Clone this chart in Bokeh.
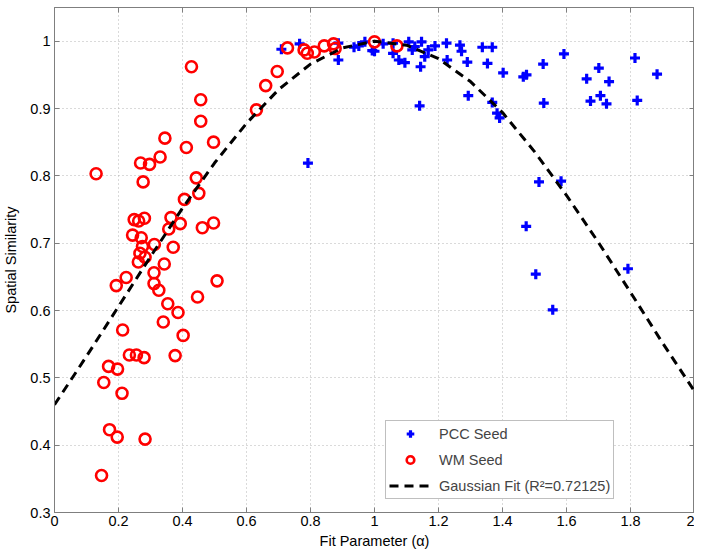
from bokeh.plotting import figure
from bokeh.models import Range1d, LinearAxis, Legend, LegendItem, FixedTicker
from bokeh.embed import file_html
from bokeh.resources import INLINE

# PCC Seed (blue crosses)
pcc_x = [0.709, 0.766, 0.887, 0.887, 0.936, 0.951, 0.970, 0.993, 0.792, 1.000,
         1.027, 1.058, 1.058, 1.076, 1.095, 1.107, 1.118, 1.126, 1.147, 1.144,
         1.157, 1.168, 1.189, 1.141, 1.225, 1.227, 1.267, 1.272, 1.290, 1.337,
         1.368, 1.353, 1.293, 1.368, 1.383, 1.391, 1.402, 1.465, 1.475, 1.527,
         1.529, 1.592, 1.663, 1.675, 1.701, 1.706, 1.725, 1.733, 1.814, 1.821,
         1.883, 1.514, 1.583, 1.474, 1.504, 1.557, 1.792]
pcc_y = [0.988, 0.996, 0.997, 0.972, 0.991, 0.993, 0.999, 0.986, 0.819, 0.985,
         0.996, 0.997, 0.982, 0.972, 0.968, 0.999, 0.987, 0.992, 0.999, 0.962,
         0.977, 0.987, 0.993, 0.904, 0.997, 0.972, 0.994, 0.985, 0.969, 0.991,
         0.991, 0.967, 0.919, 0.909, 0.893, 0.886, 0.953, 0.947, 0.950, 0.966,
         0.908, 0.981, 0.944, 0.911, 0.960, 0.919, 0.907, 0.940, 0.975, 0.912,
         0.951, 0.791, 0.792, 0.725, 0.654, 0.601, 0.662]

# WM Seed (red circles)
wm_x = [0.130, 0.428, 0.457, 0.457, 0.345, 0.412, 0.497, 0.330, 0.269, 0.297,
        0.277, 0.443, 0.451, 0.406, 0.249, 0.263, 0.281, 0.364, 0.244, 0.271,
        0.357, 0.393, 0.462, 0.497, 0.312, 0.275, 0.371, 0.267, 0.283, 0.262,
        0.343, 0.311, 0.224, 0.508, 0.696, 0.660, 0.631, 0.728, 0.780, 0.790,
        0.812, 0.843, 0.872, 0.877, 1.000, 1.070, 0.193, 0.311, 0.326, 0.447,
        0.354, 0.386, 0.340, 0.402, 0.213, 0.234, 0.256, 0.280, 0.377, 0.169,
        0.197, 0.154, 0.211, 0.172, 0.196, 0.283, 0.147]
wm_y = [0.803, 0.962, 0.913, 0.881, 0.856, 0.842, 0.850, 0.828, 0.819, 0.817,
        0.791, 0.797, 0.774, 0.765, 0.735, 0.733, 0.737, 0.738, 0.712, 0.708,
        0.721, 0.729, 0.723, 0.730, 0.698, 0.695, 0.694, 0.685, 0.679, 0.672,
        0.669, 0.656, 0.649, 0.644, 0.955, 0.934, 0.898, 0.990, 0.987, 0.982,
        0.984, 0.993, 0.996, 0.989, 0.999, 0.993, 0.637, 0.640, 0.630, 0.620,
        0.610, 0.597, 0.583, 0.563, 0.571, 0.534, 0.534, 0.530, 0.533, 0.517,
        0.513, 0.493, 0.477, 0.423, 0.412, 0.409, 0.355]

# Gaussian fit curve
fit_x = [0.0, 0.1, 0.2, 0.3, 0.4, 0.5, 0.6, 0.7, 0.8, 0.9, 1.0,
         1.1, 1.2, 1.3, 1.4, 1.5, 1.6, 1.7, 1.8, 1.9, 2.0]
fit_y = [0.460, 0.532, 0.606, 0.680, 0.752, 0.819, 0.878, 0.928, 0.966, 0.990, 1.000,
         0.994, 0.974, 0.940, 0.894, 0.836, 0.771, 0.701, 0.627, 0.552, 0.480]

x_ticks = [0, 0.2, 0.4, 0.6, 0.8, 1, 1.2, 1.4, 1.6, 1.8, 2]
y_ticks = [0.3, 0.4, 0.5, 0.6, 0.7, 0.8, 0.9, 1]

FONT = "Liberation Sans"
FS = "14.5px"
AX = "#7f7f7f"

p = figure(frame_width=640, frame_height=505, output_backend="svg", toolbar_location=None,
           x_range=Range1d(0, 2), y_range=Range1d(0.3, 1.05),
           min_border_left=44, min_border_right=0, min_border_top=7, min_border_bottom=30)
p.background_fill_color = "white"
p.border_fill_color = "white"
p.outline_line_color = AX
p.outline_line_width = 1

for ax in (p.xaxis[0], p.yaxis[0]):
    ax.axis_line_color = AX
    ax.major_tick_line_color = AX
    ax.major_tick_in = 5
    ax.major_tick_out = 0
    ax.minor_tick_line_color = None
    ax.major_label_text_font = FONT
    ax.major_label_text_font_size = FS
    ax.major_label_text_color = "black"
    ax.axis_label_text_font = FONT
    ax.axis_label_text_font_size = FS
    ax.axis_label_text_font_style = "normal"
    ax.axis_label_text_color = "black"

p.xaxis[0].ticker = FixedTicker(ticks=x_ticks)
p.yaxis[0].ticker = FixedTicker(ticks=y_ticks)
p.xaxis[0].major_label_overrides = {t: ("%g" % t) for t in x_ticks}
p.yaxis[0].major_label_overrides = {t: ("%g" % t) for t in y_ticks}
p.xaxis[0].axis_label = "Fit Parameter (\u03b1)"
p.yaxis[0].axis_label = "Spatial Similarity"
p.xaxis[0].axis_label_standoff = 4
p.yaxis[0].axis_label_standoff = 8
p.xaxis[0].major_label_standoff = 3
p.yaxis[0].major_label_standoff = 4

top = LinearAxis(ticker=FixedTicker(ticks=x_ticks),
                 major_label_overrides={t: "" for t in x_ticks},
                 major_label_standoff=0,
                 axis_line_color=AX, major_tick_line_color=AX, major_tick_in=5,
                 major_tick_out=0, minor_tick_line_color=None)
right = LinearAxis(ticker=FixedTicker(ticks=y_ticks),
                   major_label_overrides={t: "" for t in y_ticks},
                   major_label_standoff=0,
                   axis_line_color=AX, major_tick_line_color=AX, major_tick_in=5,
                   major_tick_out=0, minor_tick_line_color=None)
p.add_layout(top, "above")
p.add_layout(right, "right")

p.xgrid[0].ticker = FixedTicker(ticks=x_ticks)
p.ygrid[0].ticker = FixedTicker(ticks=y_ticks)
for g in (p.xgrid[0], p.ygrid[0]):
    g.grid_line_color = "#b5b5b5"
    g.grid_line_dash = "1 3"
    g.grid_line_width = 1

r_pcc = p.scatter(pcc_x, pcc_y, marker="cross", size=10, line_width=3.2, color="#0000ff")
r_wm = p.scatter(wm_x, wm_y, marker="circle", size=11, line_width=2.6,
                 line_color="#ff0000", fill_color=None)
r_fit = p.line(fit_x, fit_y, line_color="black", line_width=3, line_dash="9 6")

legend = Legend(items=[LegendItem(label="PCC Seed", renderers=[r_pcc]),
                       LegendItem(label="WM Seed", renderers=[r_wm]),
                       LegendItem(label="Gaussian Fit (R\u00b2=0.72125)", renderers=[r_fit])],
                location=(331, 13))
legend.label_text_font = FONT
legend.label_text_font_size = FS
legend.border_line_color = AX
legend.border_line_width = 1
legend.background_fill_alpha = 1
legend.glyph_width = 42
legend.glyph_height = 19
legend.spacing = 7
legend.padding = 3
legend.margin = 0
legend.label_standoff = 8
p.add_layout(legend, "center")

open("out.html", "w").write(file_html(p, INLINE))
